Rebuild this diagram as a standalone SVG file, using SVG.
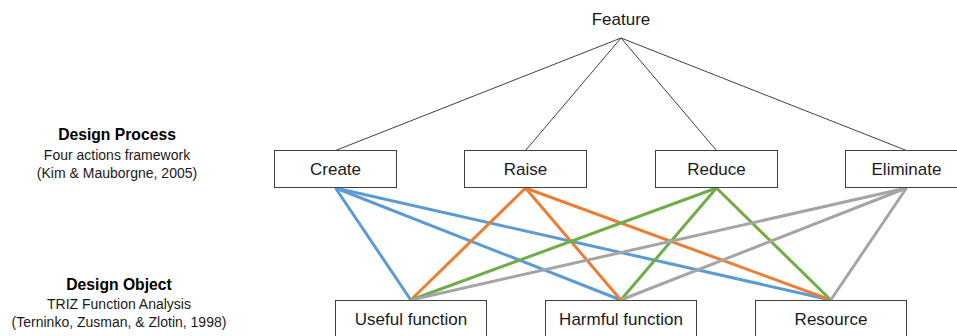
<svg xmlns="http://www.w3.org/2000/svg" width="957" height="336" viewBox="0 0 957 336">
<style>
.box{fill:#fff;stroke:#404040;stroke-width:1}
.lbl{font-family:"Liberation Sans",Arial,sans-serif;font-size:17px;fill:#1a1a1a;text-anchor:middle}
.hd{font-family:"Liberation Sans",Arial,sans-serif;font-size:15.7px;font-weight:bold;fill:#000;text-anchor:middle}
.sub{font-family:"Liberation Sans",Arial,sans-serif;font-size:14px;fill:#1a1a1a;text-anchor:middle}
.thin{stroke:#404040;stroke-width:1;fill:none}
.c{stroke-width:3;fill:none}
.blue{stroke:#5B9BD5}.orange{stroke:#ED7D31}.green{stroke:#70AD47}.gray{stroke:#A5A5A5}
</style>
<rect width="957" height="336" fill="#fff"/>
<g id="connectors">
<line class="thin" x1="621" y1="38" x2="335.5" y2="150.5"/>
<line class="thin" x1="621" y1="38" x2="525.5" y2="150.5"/>
<line class="thin" x1="621" y1="38" x2="716.5" y2="150.5"/>
<line class="thin" x1="621" y1="38" x2="906.5" y2="150.5"/>
<line class="c blue" x1="335.5" y1="188" x2="410.8" y2="300"/>
<line class="c blue" x1="335.5" y1="188" x2="620.8" y2="300"/>
<line class="c blue" x1="335.5" y1="188" x2="830.8" y2="300"/>
<line class="c orange" x1="525.5" y1="188" x2="410.8" y2="300"/>
<line class="c orange" x1="525.5" y1="188" x2="620.8" y2="300"/>
<line class="c orange" x1="525.5" y1="188" x2="830.8" y2="300"/>
<line class="c green" x1="716.5" y1="188" x2="410.8" y2="300"/>
<line class="c green" x1="716.5" y1="188" x2="620.8" y2="300"/>
<line class="c green" x1="716.5" y1="188" x2="830.8" y2="300"/>
<line class="c gray" x1="906.5" y1="188" x2="410.8" y2="300"/>
<line class="c gray" x1="906.5" y1="188" x2="620.8" y2="300"/>
<line class="c gray" x1="906.5" y1="188" x2="830.8" y2="300"/>
</g>
<g id="feature"><text class="lbl" x="621" y="25">Feature</text></g>
<g id="design-process">
<text class="hd" x="117" y="140">Design Process</text>
<text class="sub" x="117" y="160">Four actions framework</text>
<text class="sub" x="117" y="178">(Kim &amp; Mauborgne, 2005)</text>
</g>
<g id="design-object">
<text class="hd" x="119" y="290">Design Object</text>
<text class="sub" x="119" y="309">TRIZ Function Analysis</text>
<text class="sub" x="119" y="327">(Terninko, Zusman, &amp; Zlotin,  1998)</text>
</g>
<g id="create"><rect class="box" x="274.5" y="150.5" width="122" height="37"/><text class="lbl" x="335.5" y="175">Create</text></g>
<g id="raise"><rect class="box" x="464.5" y="150.5" width="122" height="37"/><text class="lbl" x="525.5" y="175">Raise</text></g>
<g id="reduce"><rect class="box" x="655.5" y="150.5" width="122" height="37"/><text class="lbl" x="716.5" y="175">Reduce</text></g>
<g id="eliminate"><rect class="box" x="845.5" y="150.5" width="122" height="37"/><text class="lbl" x="906.5" y="175">Eliminate</text></g>
<g id="useful"><rect class="box" x="335.5" y="300.5" width="151" height="40"/><text class="lbl" x="411" y="325">Useful function</text></g>
<g id="harmful"><rect class="box" x="545.5" y="300.5" width="151" height="40"/><text class="lbl" x="621" y="325">Harmful function</text></g>
<g id="resource"><rect class="box" x="755.5" y="300.5" width="151" height="40"/><text class="lbl" x="831" y="325">Resource</text></g>
</svg>
